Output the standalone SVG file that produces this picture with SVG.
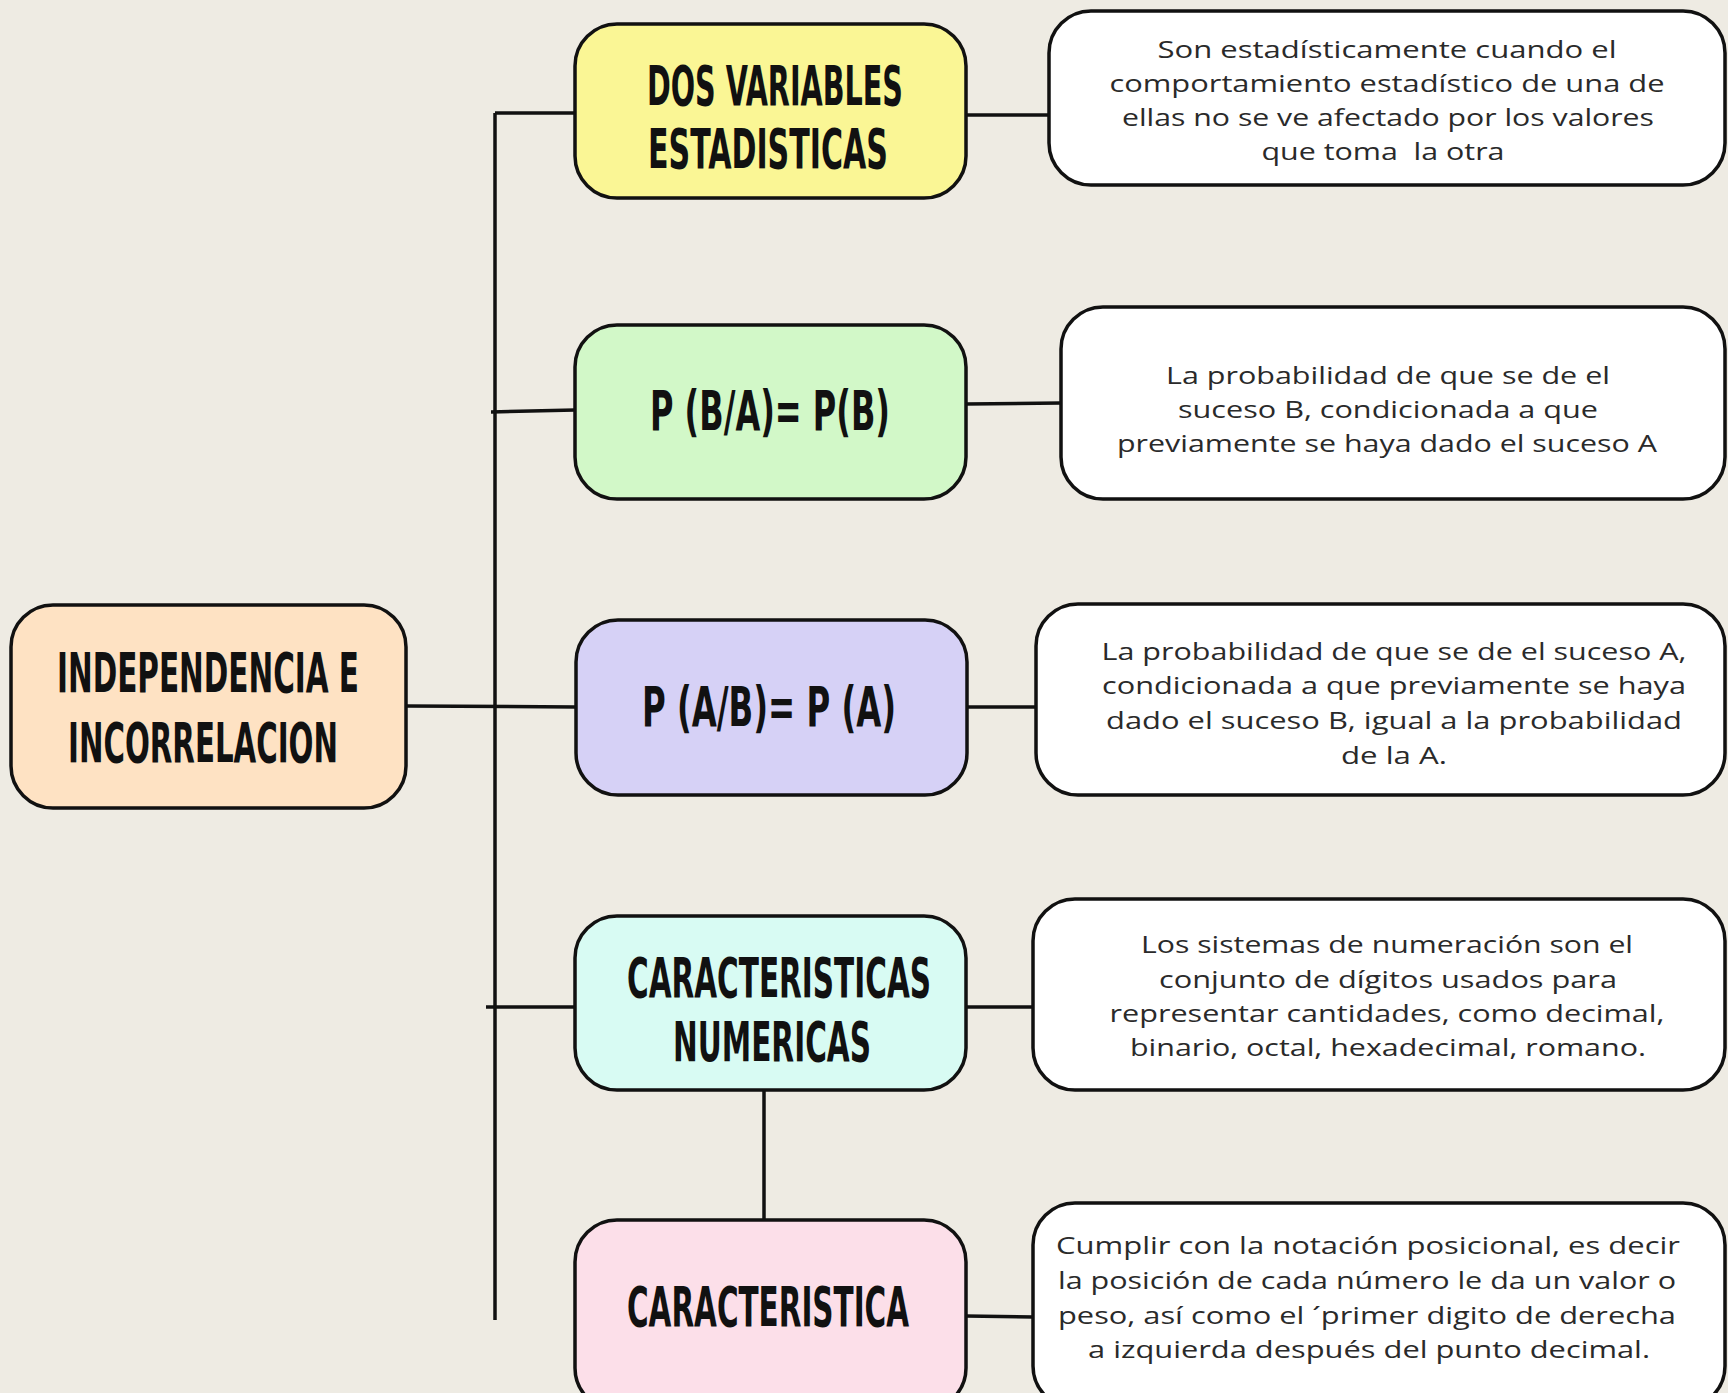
<svg xmlns="http://www.w3.org/2000/svg" width="1728" height="1393" viewBox="0 0 1728 1393">
<style>
.box{stroke:#111;stroke-width:3.5}
.h{font-family:"Liberation Sans Narrow","DejaVu Sans Condensed","Liberation Sans",sans-serif;font-weight:bold;font-size:56px;fill:#111;text-anchor:middle}
.b{font-family:"Open Sans","Noto Sans","Liberation Sans",sans-serif;font-size:24px;fill:#2a2a2a;text-anchor:middle}
.c{stroke:#111;stroke-width:3.5;fill:none}
</style>
<rect width="1728" height="1393" fill="#EEEBE3"/>
<g id="connectors">
<line class="c" x1="495" y1="113" x2="495" y2="1320"/>
<line class="c" x1="406" y1="706" x2="576" y2="707"/>
<line class="c" x1="495" y1="113" x2="575" y2="113"/>
<line class="c" x1="491" y1="412" x2="575" y2="410"/>
<line class="c" x1="486" y1="1007" x2="575" y2="1007"/>
<line class="c" x1="966" y1="115" x2="1049" y2="115"/>
<line class="c" x1="966" y1="404" x2="1061" y2="403"/>
<line class="c" x1="967" y1="707" x2="1036" y2="707"/>
<line class="c" x1="966" y1="1007" x2="1033" y2="1007"/>
<line class="c" x1="764" y1="1090" x2="764" y2="1220"/>
<line class="c" x1="966" y1="1316" x2="1033" y2="1317"/>
</g>
<g id="root">
<rect class="box" x="11" y="605" width="395" height="203" rx="42" fill="#FEE2C3"/>
<text class="h" x="208" y="692" textLength="302" lengthAdjust="spacingAndGlyphs">INDEPENDENCIA E</text>
<text class="h" x="203" y="762" textLength="270" lengthAdjust="spacingAndGlyphs">INCORRELACION</text>
</g>
<g id="n1">
<rect class="box" x="575" y="24" width="391" height="174" rx="42" fill="#FAF695"/>
<text class="h" x="775" y="105" textLength="256" lengthAdjust="spacingAndGlyphs">DOS VARIABLES</text>
<text class="h" x="768" y="168" textLength="240" lengthAdjust="spacingAndGlyphs">ESTADISTICAS</text>
</g>
<g id="n2">
<rect class="box" x="575" y="325" width="391" height="174" rx="42" fill="#D2F8C8"/>
<text class="h" x="770" y="430" textLength="240" lengthAdjust="spacingAndGlyphs">P (B/A)= P(B)</text>
</g>
<g id="n3">
<rect class="box" x="576" y="620" width="391" height="175" rx="42" fill="#D6D1F6"/>
<text class="h" x="769" y="726" textLength="254" lengthAdjust="spacingAndGlyphs">P (A/B)= P (A)</text>
</g>
<g id="n4">
<rect class="box" x="575" y="916" width="391" height="174" rx="42" fill="#D8FBF3"/>
<text class="h" x="779" y="997" textLength="304" lengthAdjust="spacingAndGlyphs">CARACTERISTICAS</text>
<text class="h" x="772" y="1061" textLength="198" lengthAdjust="spacingAndGlyphs">NUMERICAS</text>
</g>
<g id="n5">
<rect class="box" x="575" y="1220" width="391" height="190" rx="42" fill="#FCDFE9"/>
<text class="h" x="768" y="1326" textLength="282" lengthAdjust="spacingAndGlyphs">CARACTERISTICA</text>
</g>
<g id="d1">
<rect class="box" x="1049" y="11" width="676" height="174" rx="42" fill="#fff"/>
<text class="b" x="1387" y="58" textLength="459" lengthAdjust="spacingAndGlyphs">Son estadísticamente cuando el</text>
<text class="b" x="1387" y="92" textLength="555" lengthAdjust="spacingAndGlyphs">comportamiento estadístico de una de</text>
<text class="b" x="1388" y="126" textLength="532" lengthAdjust="spacingAndGlyphs">ellas no se ve afectado por los valores</text>
<text class="b" x="1383" y="160" textLength="243" lengthAdjust="spacingAndGlyphs" xml:space="preserve">que toma  la otra</text>
</g>
<g id="d2">
<rect class="box" x="1061" y="307" width="664" height="192" rx="42" fill="#fff"/>
<text class="b" x="1388" y="384" textLength="444" lengthAdjust="spacingAndGlyphs">La probabilidad de que se de el</text>
<text class="b" x="1388" y="418" textLength="420" lengthAdjust="spacingAndGlyphs">suceso B, condicionada a que</text>
<text class="b" x="1387" y="452" textLength="540" lengthAdjust="spacingAndGlyphs">previamente se haya dado el suceso A</text>
</g>
<g id="d3">
<rect class="box" x="1036" y="604" width="689" height="191" rx="42" fill="#fff"/>
<text class="b" x="1394" y="660" textLength="585" lengthAdjust="spacingAndGlyphs">La probabilidad de que se de el suceso A,</text>
<text class="b" x="1394" y="694" textLength="584" lengthAdjust="spacingAndGlyphs">condicionada a que previamente se haya</text>
<text class="b" x="1394" y="729" textLength="576" lengthAdjust="spacingAndGlyphs">dado el suceso B, igual a la probabilidad</text>
<text class="b" x="1394" y="764" textLength="106" lengthAdjust="spacingAndGlyphs">de la A.</text>
</g>
<g id="d4">
<rect class="box" x="1033" y="899" width="692" height="191" rx="42" fill="#fff"/>
<text class="b" x="1387" y="953" textLength="492" lengthAdjust="spacingAndGlyphs">Los sistemas de numeración son el</text>
<text class="b" x="1388" y="988" textLength="458" lengthAdjust="spacingAndGlyphs">conjunto de dígitos usados para</text>
<text class="b" x="1387" y="1022" textLength="555" lengthAdjust="spacingAndGlyphs">representar cantidades, como decimal,</text>
<text class="b" x="1388" y="1056" textLength="516" lengthAdjust="spacingAndGlyphs">binario, octal, hexadecimal, romano.</text>
</g>
<g id="d5">
<rect class="box" x="1033" y="1203" width="692" height="205" rx="42" fill="#fff"/>
<text class="b" x="1368" y="1254" textLength="624" lengthAdjust="spacingAndGlyphs" style="font-size:23px">Cumplir con la notación posicional, es decir</text>
<text class="b" x="1367" y="1289" textLength="618" lengthAdjust="spacingAndGlyphs" style="font-size:23px">la posición de cada número le da un valor o</text>
<text class="b" x="1367" y="1324" textLength="618" lengthAdjust="spacingAndGlyphs" style="font-size:23px">peso, así como el ´primer digito de derecha</text>
<text class="b" x="1369" y="1358" textLength="562" lengthAdjust="spacingAndGlyphs" style="font-size:23px">a izquierda después del punto decimal.</text>
</g>
</svg>
